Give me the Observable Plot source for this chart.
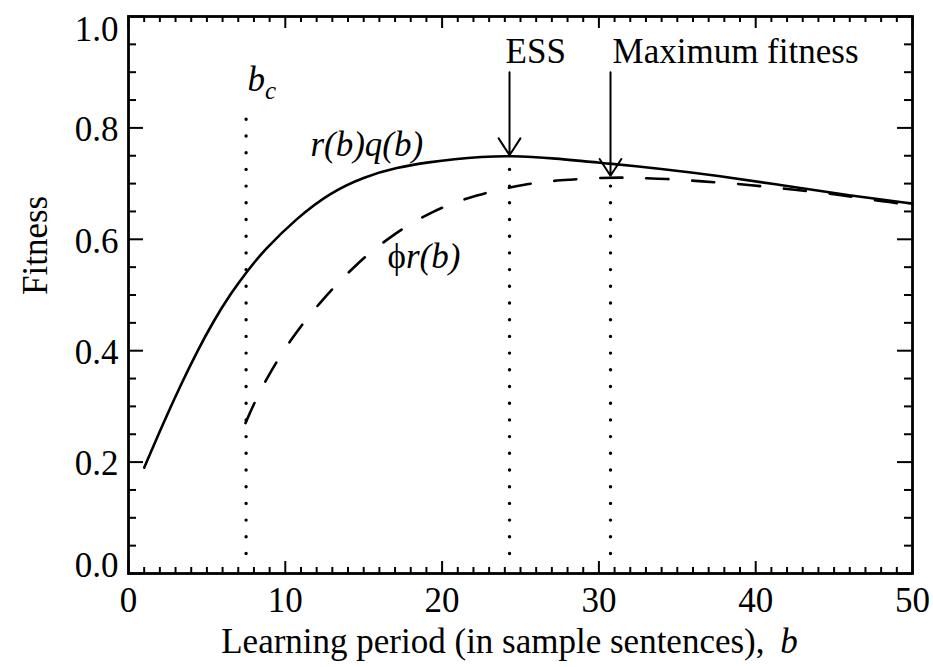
<!DOCTYPE html>
<html><head><meta charset="utf-8">
<script src="https://cdn.jsdelivr.net/npm/d3@7"></script>
<script src="https://cdn.jsdelivr.net/npm/@observablehq/plot@0.6"></script>
<style>
html,body{margin:0;padding:0;background:#fff;}
#chart svg{display:block;font-family:"Liberation Serif","Times New Roman",serif;background:#fff;color:#000;}
</style></head><body><div id="chart"></div>
<script>
// r(b)q(b) (solid)
const solidB = [1.0, 2.25, 3.32, 4.38, 5.44, 6.5, 7.57, 8.63, 10.76, 12.88, 15.0, 17.1, 19.26, 20.75, 22.5, 24.26, 27.1, 30.74, 33.9, 37.5, 41.8, 46.0, 50];
const solidY = [0.190, 0.272, 0.338, 0.399, 0.454, 0.502, 0.543, 0.580, 0.639, 0.684, 0.712, 0.729, 0.739, 0.744, 0.748, 0.750, 0.746, 0.7355, 0.727, 0.7145, 0.6966, 0.6786, 0.664];
// phi r(b) (dashed)
const dashB = [7.46, 8.0, 8.74, 9.48, 10.4, 11.18, 12.24, 13.2, 14.37, 15.43, 16.7, 17.98, 19.37, 20.75, 22.24, 23.6, 25.2, 26.6, 28.2, 29.7, 31.4, 32.65, 34.4, 35.8, 37.4, 38.8, 40.5, 41.8, 43.5, 45.0, 46.5, 48.0, 50];
const dashY = [0.270, 0.305, 0.346, 0.382, 0.421, 0.451, 0.487, 0.517, 0.550, 0.577, 0.604, 0.628, 0.649, 0.666, 0.679, 0.689, 0.698, 0.704, 0.707, 0.710, 0.711, 0.710, 0.7085, 0.7055, 0.7025, 0.6996, 0.695, 0.691, 0.686, 0.681, 0.675, 0.668, 0.662];

const xMajor = [0, 10, 20, 30, 40, 50];
const xMinor = d3.range(1, 50).filter(d => d % 10 !== 0);
const yMajor = [0.0, 0.2, 0.4, 0.6, 0.8, 1.0];
const yMinor = [0.05, 0.1, 0.15, 0.25, 0.3, 0.35, 0.45, 0.5, 0.55, 0.65, 0.7, 0.75, 0.85, 0.9, 0.95];

const markerB = [7.5, 24.3, 30.74];
const markerTop = [0.822, 0.73, 0.70];
const arrowB = [24.3, 30.74];
const arrowTo = [0.751, 0.714];
const arrowFrom = 0.9;

const solid = solidB.map((b, i) => ({b, y: solidY[i]}));
const dashed = dashB.map((b, i) => ({b, y: dashY[i]}));
const markers = markerB.map((b, i) => ({b, top: markerTop[i]}));
const arrows = arrowB.map((b, i) => ({b, from: arrowFrom, to: arrowTo[i]}));

const W = 933, H = 667, mL = 128, mR = 21, mT = 16, mB = 94;
const innerH = H - mT - mB, innerW = W - mL - mR;
const FS = 35;

const plot = Plot.plot({
  width: W, height: H,
  marginLeft: mL, marginRight: mR, marginTop: mT, marginBottom: mB,
  x: {domain: [0, 50], axis: null},
  y: {domain: [0, 1], axis: null},
  marks: [
    Plot.ruleX(markers, {x: "b", y1: 0.035, y2: "top", stroke: "#000", strokeWidth: 3.4, strokeDasharray: "0,16.7", strokeLinecap: "round"}),
    Plot.line(dashed, {x: "b", y: "y", curve: "basis", stroke: "#000", strokeWidth: 2.6, strokeDasharray: "22,24"}),
    Plot.line(solid, {x: "b", y: "y", curve: "basis", stroke: "#000", strokeWidth: 2.6}),
    Plot.arrow(arrows, {x: "b", y1: "from", y2: "to", stroke: "#000", strokeWidth: 2, headLength: 15, headAngle: 66}),
    // ticks (inward, on all four sides)
    Plot.tickX(xMinor, {x: d => d, insetTop: innerH - 6, stroke: "#000", strokeWidth: 2}),
    Plot.tickX(xMinor, {x: d => d, insetBottom: innerH - 6, stroke: "#000", strokeWidth: 2}),
    Plot.tickX(xMajor, {x: d => d, insetTop: innerH - 12, stroke: "#000", strokeWidth: 2}),
    Plot.tickX(xMajor, {x: d => d, insetBottom: innerH - 12, stroke: "#000", strokeWidth: 2}),
    Plot.tickY(yMinor, {y: d => d, insetRight: innerW - 8, stroke: "#000", strokeWidth: 2}),
    Plot.tickY(yMinor, {y: d => d, insetLeft: innerW - 8, stroke: "#000", strokeWidth: 2}),
    Plot.tickY(yMajor, {y: d => d, insetRight: innerW - 15, stroke: "#000", strokeWidth: 2}),
    Plot.tickY(yMajor, {y: d => d, insetLeft: innerW - 15, stroke: "#000", strokeWidth: 2}),
    Plot.frame({stroke: "#000", strokeWidth: 2.8}),
    // tick labels
    Plot.axisX({ticks: xMajor, tickSize: 0, tickPadding: 14, tickFormat: d3.format("d"), fontSize: FS, label: null}),
    Plot.axisY({ticks: [0.2, 0.4, 0.6, 0.8], tickSize: 0, tickPadding: 10, tickFormat: d3.format(".1f"), fontSize: FS, label: null, dy: 2}),
    Plot.axisY({ticks: [1.0], tickSize: 0, tickPadding: 10, tickFormat: d3.format(".1f"), fontSize: FS, label: null, dy: 13}),
    Plot.axisY({ticks: [0.0], tickSize: 0, tickPadding: 10, tickFormat: d3.format(".1f"), fontSize: FS, label: null, dy: -8}),
    // axis titles
    Plot.text(["Fitness"], {frameAnchor: "left", rotate: -90, dx: -93, fontSize: FS, fill: "#000"}),
    Plot.text(["Learning period (in sample sentences),  b"], {frameAnchor: "bottom", dy: 79, dx: -11, lineAnchor: "bottom", fontSize: FS, fill: "#000"}),
    // annotations
    Plot.text(["ESS"], {x: 24.05, y: 0.917, textAnchor: "start", lineAnchor: "bottom", fontSize: FS, fill: "#000"}),
    Plot.text(["Maximum fitness"], {x: 30.87, y: 0.917, textAnchor: "start", lineAnchor: "bottom", fontSize: FS, fill: "#000"}),
    Plot.text(["r(b)q(b)"], {x: 11.6, y: 0.749, textAnchor: "start", lineAnchor: "bottom", fontSize: FS, fontStyle: "italic", fill: "#000"}),
    Plot.text(["b_c"], {x: 7.59, y: 0.867, textAnchor: "start", lineAnchor: "bottom", fontSize: FS, fontStyle: "italic", fill: "#000"}),
    Plot.text(["\u03D5r(b)"], {x: 16.52, y: 0.548, textAnchor: "start", lineAnchor: "bottom", fontSize: FS, fill: "#000"})
  ]
});

// mixed styles inside single text elements
d3.select(plot).selectAll("text").each(function() {
  const t = d3.select(this);
  const s = this.textContent;
  if (s === "Learning period (in sample sentences),  b") {
    t.text(null);
    t.append("tspan").text("Learning period (in sample sentences),");
    t.append("tspan").attr("dx", "0.45em").attr("font-style", "italic").text("b");
  } else if (s === "b_c") {
    t.text(null);
    t.append("tspan").text("b");
    t.append("tspan").attr("dy", 8).attr("font-size", 25).text("c");
  } else if (s === "\u03D5r(b)") {
    t.text(null);
    t.append("tspan").text("\u03D5");
    t.append("tspan").attr("font-style", "italic").text("r(b)");
  }
});

document.getElementById("chart").appendChild(plot);
</script></body></html>
